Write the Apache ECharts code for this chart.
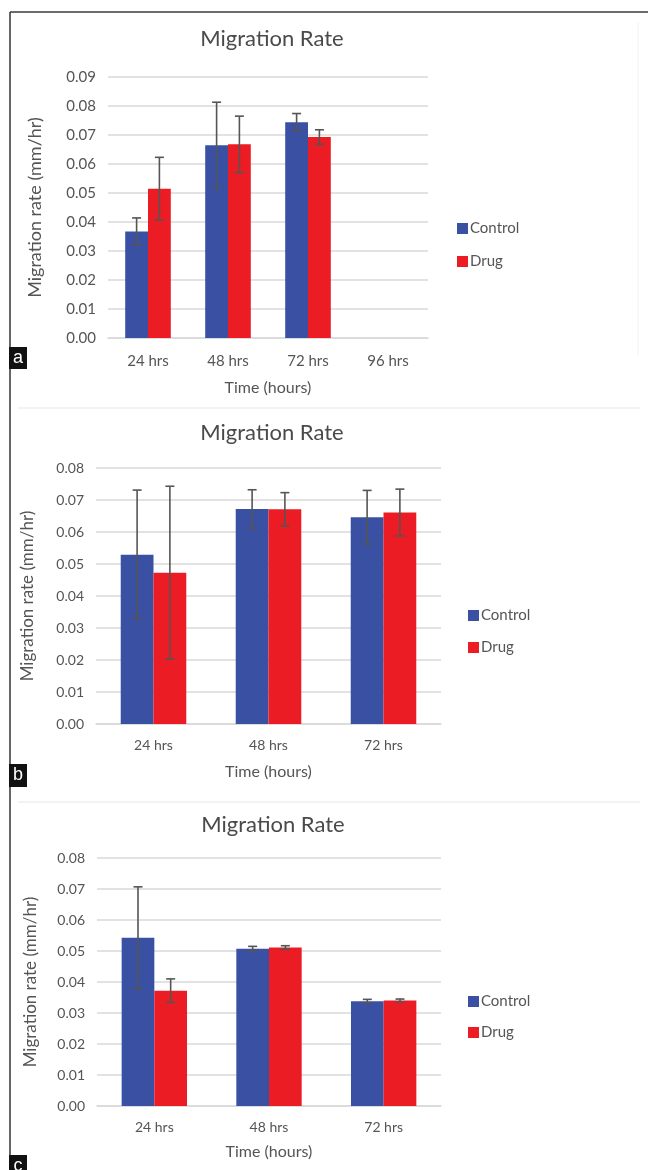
<!DOCTYPE html>
<html>
<head>
<meta charset="utf-8">
<script src="https://cdn.jsdelivr.net/npm/echarts@6/dist/echarts.min.js"></script>
<style>
html,body{margin:0;padding:0;background:#fff;}
#chart{width:648px;height:1170px;}
</style>
</head>
<body>
<div id="chart"></div>
<script>
// ---- data ----
const categoriesA = ['24 hrs', '48 hrs', '72 hrs', '96 hrs'];
const controlA = [0.0367, 0.0665, 0.0744, null];
const controlErrA = [0.0047, 0.0148, 0.0030, null];
const drugA = [0.0515, 0.0668, 0.0693, null];
const drugErrA = [0.0108, 0.0097, 0.0025, null];

const categoriesB = ['24 hrs', '48 hrs', '72 hrs'];
const controlB = [0.0529, 0.0672, 0.0646];
const controlErrB = [0.0202, 0.0060, 0.0084];
const drugB = [0.0473, 0.0671, 0.0661];
const drugErrB = [0.0270, 0.0052, 0.0073];

const categoriesC = ['24 hrs', '48 hrs', '72 hrs'];
const controlC = [0.0543, 0.0507, 0.0338];
const controlErrC = [0.0164, 0.0008, 0.0006];
const drugC = [0.0372, 0.0511, 0.0340];
const drugErrC = [0.0038, 0.0006, 0.0005];

const yMaxA = 0.09, yMaxB = 0.08, yMaxC = 0.08, yStep = 0.01;
const seriesNames = ['Control', 'Drug'];
const panelLetters = ['a', 'b', 'c'];
const titleText = 'Migration Rate';
const yName = 'Migration rate (mm/hr)';
const xName = 'Time (hours)';

// ---- styles ----
const BLUE = '#3a50a3';
const RED = '#ec1c24';
const TXT = '#555555';
const FONT = 'Lato';
const GAP = 0.43;

const chart = echarts.init(document.getElementById('chart'));

function errSeries(vals, errs, side, idx) {
  return {
    type: 'custom',
    xAxisIndex: idx, yAxisIndex: idx,
    z: 5,
    silent: true,
    data: vals.map((v, i) => [i, v == null ? NaN : v, errs[i] == null ? NaN : errs[i]]),
    renderItem: function (params, api) {
      const i = api.value(0), v = api.value(1), e = api.value(2);
      if (isNaN(v)) return null;
      const band = api.size([1, 0])[0];
      const bw = band * (1 - GAP) / 2;
      const x = api.coord([i, v])[0] + side * bw / 2;
      const yt = api.coord([i, v + e])[1];
      const yb = api.coord([i, v - e])[1];
      const st = {stroke: '#555', lineWidth: 1.6};
      const c = 4.5;
      return {type: 'group', children: [
        {type: 'line', shape: {x1: x, y1: yt, x2: x, y2: yb}, style: st},
        {type: 'line', shape: {x1: x - c, y1: yt, x2: x + c, y2: yt}, style: st},
        {type: 'line', shape: {x1: x - c, y1: yb, x2: x + c, y2: yb}, style: st}
      ]};
    }
  };
}

const panels = [
  {cats: categoriesA, ctrl: controlA, ce: controlErrA, drug: drugA, de: drugErrA, max: yMaxA,
   grid: {left: 108, top: 77, width: 320, height: 261}, fs: 15, nameFs: 18, titleTop: 23, titleX: 267,
   legend: {left: 452, top: 216}, legendGap: 18, yGap: 64, xGap: 42, lblMargin: 16},
  {cats: categoriesB, ctrl: controlB, ce: controlErrB, drug: drugB, de: drugErrB, max: yMaxB,
   grid: {left: 96, top: 468, width: 345, height: 256}, fs: 14, nameFs: 17, titleTop: 417, titleX: 267,
   legend: {left: 463, top: 603}, legendGap: 17, yGap: 60, xGap: 40, lblMargin: 14},
  {cats: categoriesC, ctrl: controlC, ce: controlErrC, drug: drugC, de: drugErrC, max: yMaxC,
   grid: {left: 97, top: 858, width: 344, height: 248}, fs: 14, nameFs: 17, titleTop: 809, titleX: 268,
   legend: {left: 463, top: 989}, legendGap: 16, yGap: 58, xGap: 38, lblMargin: 14}
];

const option = {
  animation: false,
  backgroundColor: '#fff',
  textStyle: {fontFamily: FONT},
  title: [], legend: [], grid: [], xAxis: [], yAxis: [], series: [], graphic: []
};

panels.forEach((p, k) => {
  option.title.push({
    text: titleText, left: p.titleX, top: p.titleTop, textAlign: 'center',
    textStyle: {fontFamily: FONT, fontSize: 22, fontWeight: 'normal', color: '#4a4a4a'}
  });
  option.grid.push(Object.assign({containLabel: false}, p.grid));
  option.legend.push({
    orient: 'vertical', left: p.legend.left, top: p.legend.top,
    data: seriesNames, icon: 'rect', itemWidth: 11, itemHeight: 11, itemGap: p.legendGap,
    selectedMode: false,
    textStyle: {fontFamily: FONT, fontSize: 15, color: TXT, padding: [0, 0, 0, -3]}
  });
  option.xAxis.push({
    type: 'category', gridIndex: k, data: p.cats,
    axisLine: {show: true, lineStyle: {color: '#d9d9d9', width: 1.5}},
    axisTick: {show: false},
    axisLabel: {fontFamily: FONT, fontSize: p.fs, color: TXT, margin: p.lblMargin},
    name: xName, nameLocation: 'middle', nameGap: p.xGap,
    nameTextStyle: {fontFamily: FONT, fontSize: 16, color: TXT}
  });
  option.yAxis.push({
    type: 'value', gridIndex: k, min: 0, max: p.max, interval: yStep,
    axisLine: {show: false}, axisTick: {show: false},
    splitLine: {lineStyle: {color: '#d9d9d9', width: 1.5}},
    axisLabel: {fontFamily: FONT, fontSize: p.fs, color: TXT, margin: 12,
      formatter: v => v.toFixed(2)},
    name: yName, nameLocation: 'middle', nameGap: p.yGap,
    nameTextStyle: {fontFamily: FONT, fontSize: p.nameFs, color: TXT}
  });
  option.series.push({
    name: seriesNames[0], type: 'bar', xAxisIndex: k, yAxisIndex: k,
    data: p.ctrl, barGap: '0%', barCategoryGap: (GAP * 100) + '%',
    itemStyle: {color: BLUE}
  });
  option.series.push({
    name: seriesNames[1], type: 'bar', xAxisIndex: k, yAxisIndex: k,
    data: p.drug, barGap: '0%', barCategoryGap: (GAP * 100) + '%',
    itemStyle: {color: RED}
  });
  option.series.push(errSeries(p.ctrl, p.ce, -1, k));
  option.series.push(errSeries(p.drug, p.de, 1, k));
});

// frame, separators and panel letters
const letterBoxes = [{y: 347, h: 22}, {y: 764, h: 23}, {y: 1155, h: 22}];
option.graphic.push(
  {type: 'line', shape: {x1: 10, y1: 12, x2: 648, y2: 12}, style: {stroke: '#6b6b6b', lineWidth: 2}},
  {type: 'line', shape: {x1: 10, y1: 12, x2: 10, y2: 1170}, style: {stroke: '#333', lineWidth: 1.5}},
  {type: 'line', shape: {x1: 18, y1: 408, x2: 640, y2: 408}, style: {stroke: '#efefef', lineWidth: 1.5}},
  {type: 'line', shape: {x1: 18, y1: 802, x2: 640, y2: 802}, style: {stroke: '#efefef', lineWidth: 1.5}},
  {type: 'line', shape: {x1: 638, y1: 22, x2: 638, y2: 355}, style: {stroke: '#f2f2f2', lineWidth: 1}}
);
letterBoxes.forEach((b, k) => {
  option.graphic.push({type: 'rect', shape: {x: 9, y: b.y, width: 18, height: b.h}, style: {fill: '#111'}});
  option.graphic.push({type: 'text', x: 18, y: b.y + b.h / 2, style: {
    text: panelLetters[k], fill: '#fff', font: '18px "Liberation Sans", Arial, sans-serif',
    textAlign: 'center', textVerticalAlign: 'middle'}});
});

chart.setOption(option);
</script>
</body>
</html>
